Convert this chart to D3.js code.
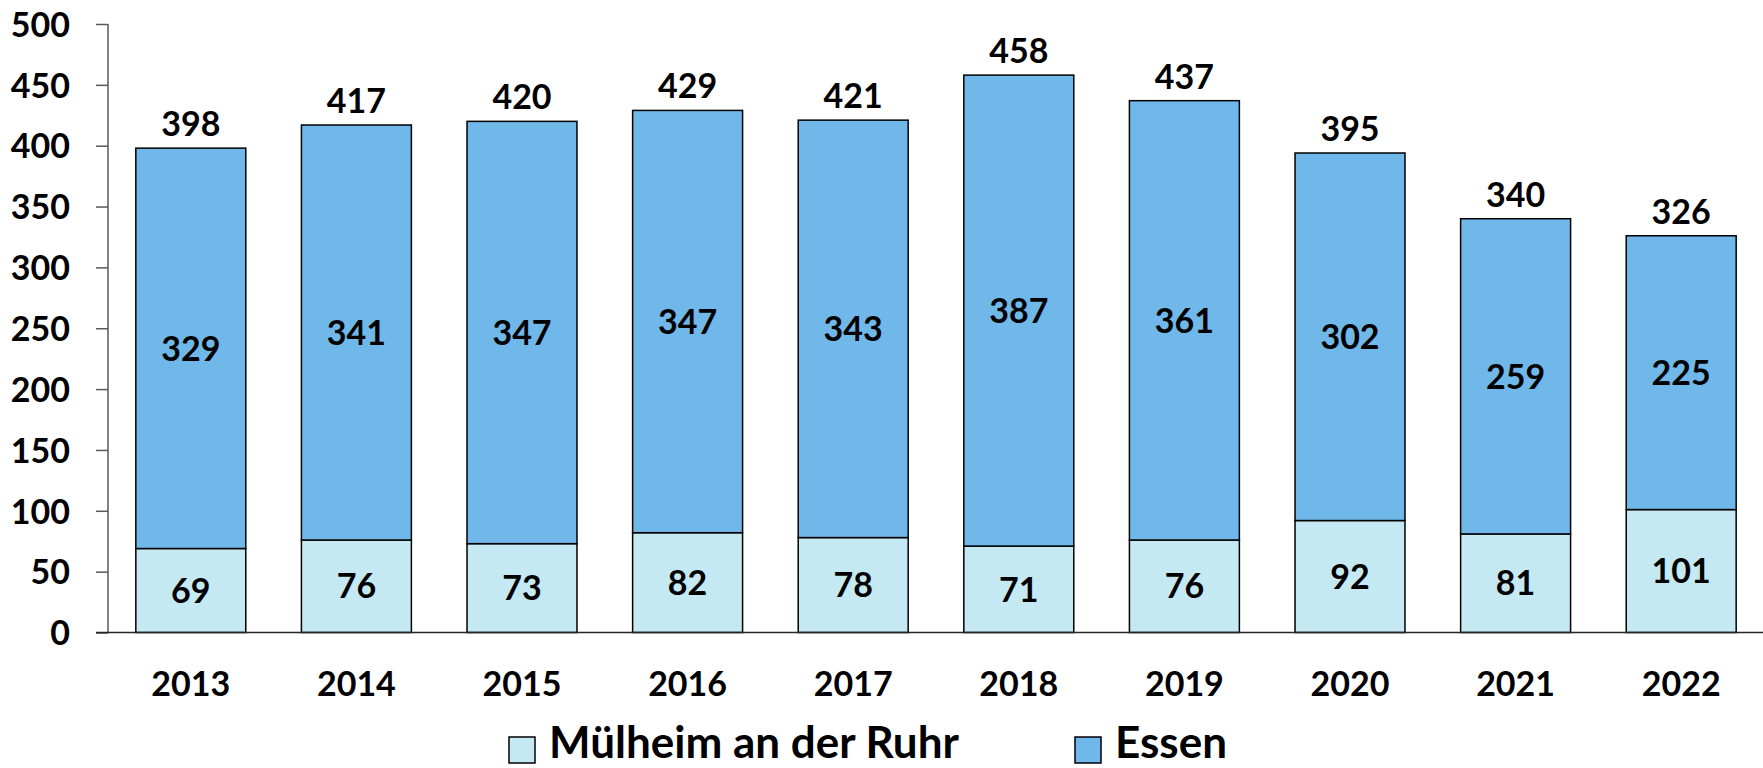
<!DOCTYPE html>
<html lang="de">

<head>
  <meta charset="UTF-8">
  <title>Mülheim an der Ruhr / Essen</title>
  <style>
    html,
    body {
      height: 100%;
      margin: 0;
      background: #fff;
    }

    svg {
      display: block;
    }
  </style>
</head>

<body>
  <svg id="chart" width="1763" height="768"></svg>
  <script src="https://cdn.jsdelivr.net/npm/d3@7"></script>
  <script>
    // Daten
    var years = ['2013', '2014', '2015', '2016', '2017', '2018', '2019', '2020', '2021', '2022']
    var muelheim = [69, 76, 73, 82, 78, 71, 76, 92, 81, 101]
    var essen = [329, 341, 347, 347, 343, 387, 361, 302, 259, 225]
    var totals = [398, 417, 420, 429, 421, 458, 437, 395, 340, 326]
    var seriesNames = ['Mülheim an der Ruhr', 'Essen']
    var yTicks = [0, 50, 100, 150, 200, 250, 300, 350, 400, 450, 500]

    var colors = ['#c5e9f2', '#6fb8e9']
    var font = 'Lato, "Open Sans", sans-serif'
    var fs = 34

    var width = 1763
    var plotLeft = 108
    var plotTop = 24
    var plotBottom = 632.5

    var rows = years.map((y, i) => ({ year: y, m: muelheim[i], e: essen[i], total: totals[i] }))
    var stack = d3.stack().keys(['m', 'e'])(rows)

    var x = d3.scaleBand()
      .domain(years)
      .range([plotLeft, width + 1])
      .paddingInner(0.336)
      .paddingOuter(0.168)

    var y = d3.scaleLinear()
      .domain([0, 500])
      .range([plotBottom, plotTop])

    var svg = d3.select('#chart')
      .attr('font-family', font)
      .attr('font-weight', 'bold')

    // y-Achse
    var yAxis = svg.append('g')
      .attr('transform', `translate(${plotLeft},0)`)
      .call(d3.axisLeft(y).tickValues(yTicks).tickSize(12).tickPadding(26))
    yAxis.selectAll('path, line').attr('stroke', '#595959').attr('stroke-width', 1.5)
    yAxis.select('.domain').attr('d', `M0,${plotTop}V${plotBottom}`)
    yAxis.selectAll('text')
      .attr('font-family', font)
      .attr('font-size', fs)
      .attr('font-weight', 'bold')
      .attr('fill', '#000')
      .attr('dy', '0.36em')

    // Balken
    var layer = svg.append('g')
      .selectAll('g')
      .data(stack)
      .join('g')
      .attr('fill', (d, i) => colors[i])

    layer.selectAll('rect')
      .data(d => d)
      .join('rect')
      .attr('x', d => x(d.data.year))
      .attr('width', x.bandwidth())
      .attr('y', d => y(d[1]))
      .attr('height', d => y(d[0]) - y(d[1]))
      .attr('stroke', '#000')
      .attr('stroke-width', 1.5)

    // x-Achse
    svg.append('line')
      .attr('x1', plotLeft - 12)
      .attr('x2', width)
      .attr('y1', y(0))
      .attr('y2', y(0))
      .attr('stroke', '#262626')
      .attr('stroke-width', 1.5)

    svg.append('g')
      .selectAll('text')
      .data(years)
      .join('text')
      .attr('x', d => x(d) + x.bandwidth() / 2)
      .attr('y', 696)
      .attr('text-anchor', 'middle')
      .attr('font-size', fs)
      .text(d => d)

    // Werte in den Segmenten
    layer.selectAll('text')
      .data(d => d)
      .join('text')
      .attr('x', d => x(d.data.year) + x.bandwidth() / 2)
      .attr('y', d => y((d[0] + d[1]) / 2))
      .attr('dy', '0.36em')
      .attr('text-anchor', 'middle')
      .attr('font-size', fs)
      .attr('fill', '#000')
      .text(d => d[1] - d[0])

    // Summen
    svg.append('g')
      .selectAll('text')
      .data(rows)
      .join('text')
      .attr('x', d => x(d.year) + x.bandwidth() / 2)
      .attr('y', d => y(d.m + d.e) - 12)
      .attr('text-anchor', 'middle')
      .attr('font-size', fs)
      .text(d => d.total)

    // Legende
    var legendX = [509, 1075]
    var legend = svg.append('g')
      .selectAll('g')
      .data(seriesNames)
      .join('g')
      .attr('transform', (d, i) => `translate(${legendX[i]},737)`)

    legend.append('rect')
      .attr('width', 26)
      .attr('height', 26)
      .attr('fill', (d, i) => colors[i])
      .attr('stroke', '#000')
      .attr('stroke-width', 1.5)

    legend.append('text')
      .attr('x', 40)
      .attr('y', 21)
      .attr('font-size', 44)
      .text(d => d)
  </script>
</body>

</html>
